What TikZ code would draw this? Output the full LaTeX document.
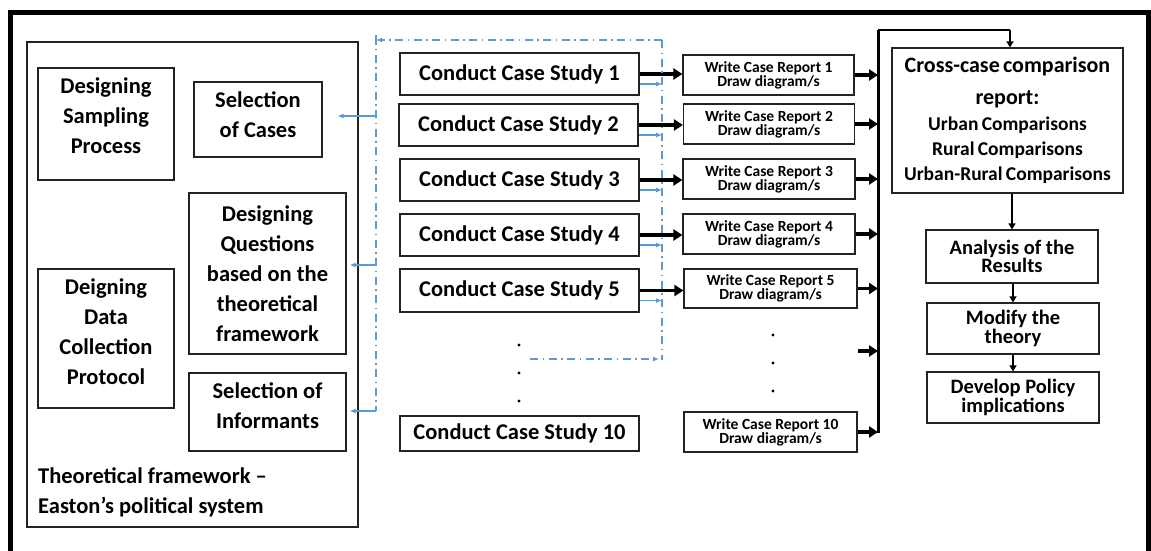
\documentclass[tikz,border=0pt]{standalone}
\usepackage{fontspec}
\setmainfont{Carlito}
\usetikzlibrary{arrows.meta,calc}
\definecolor{linkblue}{RGB}{91,155,213}
\definecolor{boxline}{RGB}{35,35,35}
% extra depth under the last line, to lift a box's text a little
\newcommand\dropby[1]{\rule[-#1]{0pt}{#1}}
\newcommand\bigfont{\fontsize{22.5}{30}\selectfont\bfseries}
\newcommand\repfont{\fontsize{15.5}{14}\selectfont\bfseries\lineskiplimit=-50pt}
\newcommand\stepfont{\fontsize{20.5}{18.5}\selectfont\bfseries\lineskiplimit=-50pt}

\begin{document}
\begin{tikzpicture}[x=1pt,y=-1pt,
  box/.style={draw=boxline, line width=1.2pt, inner sep=0pt, align=center},
  sz/.style 2 args={minimum width=#1, minimum height=#2},
  dotmark/.style={circle, fill=black, inner sep=0pt, minimum size=3.4pt},
  fat/.style={line width=3.2pt, -{Triangle[length=9pt,width=11pt]}},
  slim/.style={line width=2pt, -{Triangle[length=6pt,width=7pt]}},
  loopline/.style={draw=linkblue, line width=1.4pt,
    dash pattern=on 8pt off 4.5pt on 1.5pt off 4.5pt},
  bluearrow/.style={draw=linkblue, line width=1.1pt,
    -{Latex[length=6pt,width=5pt]}}
]
\path[use as bounding box] (0,0) rectangle (1151,550);
\clip (0,0) rectangle (1151,550);

% heavy outer frame
\draw[line width=5pt] (10.5,12.5) rectangle (1148.5,620);

% ---------- design stage ----------
\node[box, sz={331}{485}] (theory) at (192.5,284.5) {};
\node[box, sz={136}{112}, font=\bigfont] (sampling) at (106,124)
  {Designing\\Sampling\\Process\dropby{16pt}};
\node[box, sz={128}{75}, font=\bigfont] (cases) at (258,119.5)
  {Selection\\of Cases\dropby{10pt}};
\node[box, sz={157}{161}, font=\bigfont] (questions) at (267.5,273.5)
  {Designing\\Questions\\based on the\\theoretical\\framework};
\node[box, sz={136}{139}, font=\bigfont] (protocol) at (106,338.5)
  {Deigning\\Data\\Collection\\Protocol\dropby{13pt}};
\node[box, sz={157}{78}, font=\bigfont] (informants) at (267.5,412)
  {Selection of\\Informants\dropby{12pt}};
\node[font=\bigfont, align=left, anchor=west, inner sep=0pt] (theorylabel)
  at (38,492.5) {Theoretical framework –\\Easton’s political system};

% ---------- case studies ----------
\node[box, sz={239}{42}, font=\bigfont] (case1) at (519.5,74) {Conduct Case Study 1};
\node[box, sz={239}{42}, font=\bigfont] (case2) at (518.5,125) {Conduct Case Study 2};
\node[box, sz={239}{42}, font=\bigfont] (case3) at (519.5,180) {Conduct Case Study 3};
\node[box, sz={239}{42}, font=\bigfont] (case4) at (519.5,235) {Conduct Case Study 4};
\node[box, sz={239}{43}, font=\bigfont] (case5) at (519.5,290.5) {Conduct Case Study 5};
\node[box, sz={239}{35}, font=\bigfont] (case10) at (519.5,433.5) {Conduct Case Study 10};
\node[dotmark] (cdot1) at (519,345) {};
\node[dotmark] (cdot2) at (519,373) {};
\node[dotmark] (cdot3) at (519,401) {};

% ---------- case reports ----------
\node[box, sz={171}{40}, font=\repfont] (rep1) at (768.5,75) {Write Case Report 1\\Draw diagram/s};
\node[box, sz={171}{40}, font=\repfont] (rep2) at (769,124) {Write Case Report 2\\Draw diagram/s};
\node[box, sz={172}{40}, font=\repfont] (rep3) at (769,179) {Write Case Report 3\\Draw diagram/s};
\node[box, sz={172}{40}, font=\repfont] (rep4) at (769,234) {Write Case Report 4\\Draw diagram/s};
\node[box, sz={173}{39}, font=\repfont] (rep5) at (770.5,288.5) {Write Case Report 5\\Draw diagram/s};
\node[box, sz={173}{40}, font=\repfont] (rep10) at (770.5,432) {Write Case Report 10\\Draw diagram/s};
\node[dotmark] (rdot1) at (773,335) {};
\node[dotmark] (rdot2) at (773,363) {};
\node[dotmark] (rdot3) at (773,391) {};

% ---------- synthesis ----------
\node[box, sz={231}{145}, text width=225pt] (cross) at (1007.5,120.5)
  {{\fontsize{22}{32}\selectfont\bfseries Cross-case comparison\\report:\par}
   \vspace{1pt}
   {\fontsize{19.5}{25}\selectfont\bfseries Urban Comparisons\\Rural Comparisons\\Urban-Rural Comparisons\par}};
\node[box, sz={172}{53}, font=\stepfont] (analysis) at (1012,256.5) {Analysis of the\\Results};
\node[box, sz={172}{51}, font=\stepfont] (modify) at (1013,328.5) {Modify the\\theory};
\node[box, sz={172}{51}, font=\stepfont] (develop) at (1013,397.5) {Develop Policy\\implications};

% ---------- black flow ----------
\foreach \i in {1,...,5}
  \draw[fat] (case\i.east) -- (case\i.east -| rep\i.west);

\coordinate (bustop) at (878,30);
\coordinate (busbot) at (878,433);
\coordinate (busturn) at (1010,30);
\coordinate (repdots) at (858,351);
\draw[line width=3pt] (busbot) -- (bustop);
\draw[line width=2.2pt] (bustop) -- (busturn);
\draw[slim] (busturn) -- (busturn |- cross.north);
\foreach \i in {1,2,3,4,5,10}
  \draw[fat] (rep\i.east) -- (rep\i.east -| bustop);
\draw[fat] (repdots) -- (repdots -| bustop);

\draw[slim] (analysis.north |- cross.south) -- (analysis.north);
\draw[slim] (modify.north |- analysis.south) -- (modify.north);
\draw[slim] (develop.north |- modify.south) -- (develop.north);

% ---------- blue feedback loop ----------
\coordinate (bltl) at (376,40);
\coordinate (bltr) at (662,40);
\coordinate (blbr) at (662,360);
\coordinate (blbl) at (376,411);
\coordinate (loopstart) at (530,359);
\coordinate (tapcases) at (376,116);
\coordinate (tapquest) at (376,265);

\draw[loopline] (376,36) -- (blbl);
\draw[loopline] (bltr) -- (blbr);
\draw[loopline, -{Latex[length=6pt,width=5pt]}] (bltr) -- (bltl);
\draw[loopline, -{Latex[length=6pt,width=5pt]}, shorten >=3pt] (loopstart) -- (loopstart -| blbr);
\draw[linkblue, line width=1.1pt] (376,35) -- (376,45);
\draw[linkblue, line width=1.1pt] (662,40) -- (662,47);

\foreach \i in {1,...,5}
  \draw[bluearrow] ([yshift=-10pt]case\i.east) -- ([yshift=-10pt]case\i.east -| bltr);

\draw[bluearrow, shorten >=15pt] (tapcases) -- (tapcases -| cases.east);
\draw[bluearrow, shorten >=3pt] (tapquest) -- (tapquest -| questions.east);
\draw[bluearrow, shorten >=3pt] (blbl) -- (blbl -| informants.east);
\end{tikzpicture}
\end{document}
